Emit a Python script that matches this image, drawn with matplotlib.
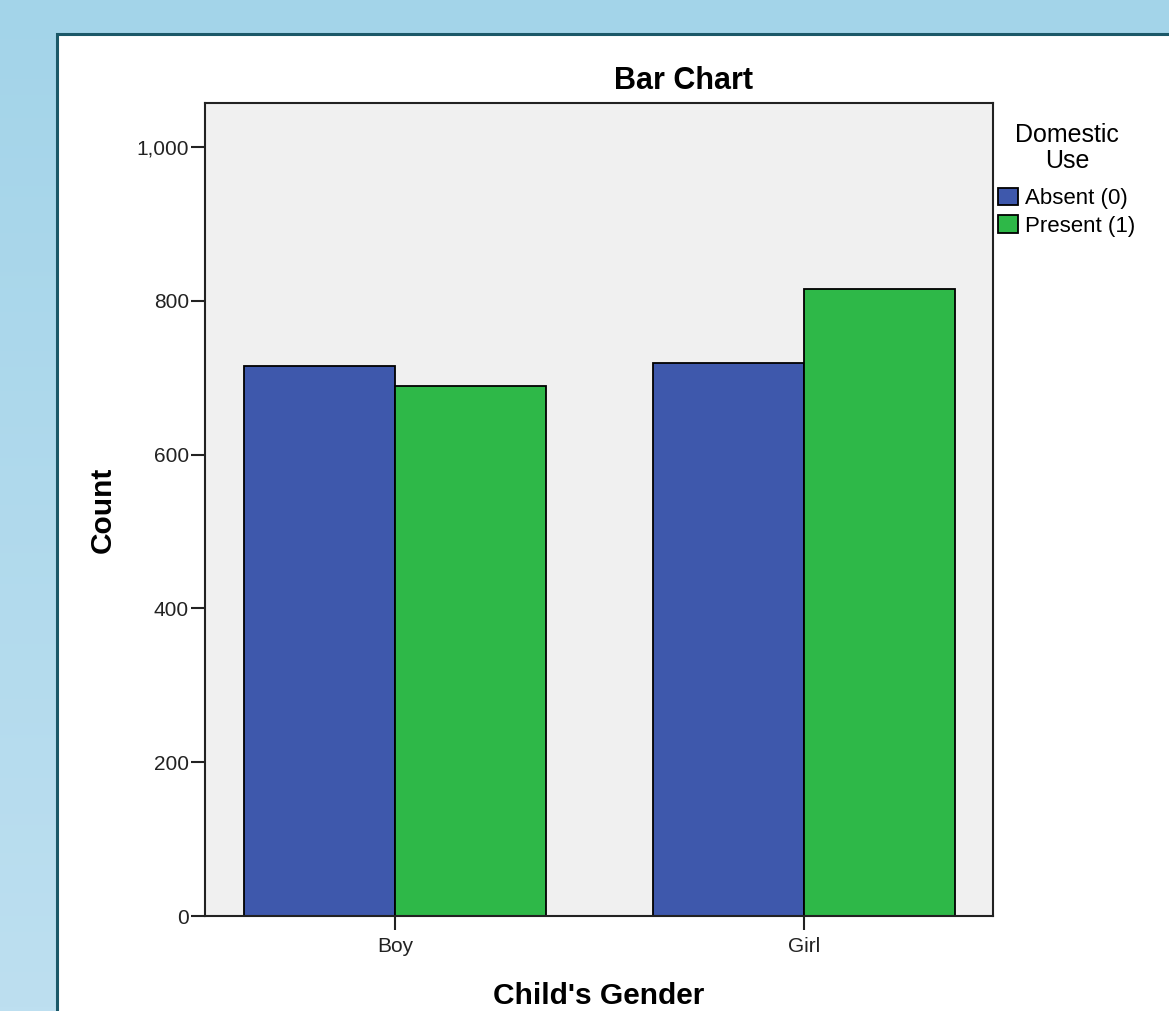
import matplotlib
matplotlib.use("Agg")
import matplotlib.pyplot as plt
import numpy as np
from matplotlib.patches import Rectangle
from matplotlib.ticker import FuncFormatter
from matplotlib.colors import LinearSegmentedColormap

categories = ["Boy", "Girl"]
series_names = ["Absent (0)", "Present (1)"]
absent = [715, 719]
present = [689, 815]
colors = ["#3e58ac", "#2eb848"]
yticks = [0, 200, 400, 600, 800, 1000]

W, H = 1169, 1011
fig = plt.figure(figsize=(W / 100, H / 100), dpi=100)
plt.rcParams['font.family'] = ['Liberation Sans', 'DejaVu Sans']

# background gradient
bg = fig.add_axes([0, 0, 1, 1], zorder=-10)
grad = np.linspace(0, 1, 256).reshape(-1, 1)
cmap = LinearSegmentedColormap.from_list("bg", ["#a3d4e9", "#bddff0"])
bg.imshow(grad, aspect="auto", cmap=cmap, extent=[0, 1, 0, 1], origin="upper")
bg.set_xlim(0, 1); bg.set_ylim(0, 1)
bg.axis("off")
bg.add_patch(Rectangle((57 / W, -0.1), 1.2, 1 - 34 / H + 0.1, facecolor="white",
                       edgecolor="#1b5868", linewidth=2.2, transform=bg.transAxes))

ax = fig.add_axes([205 / W, (H - 916) / H, (993 - 205) / W, (916 - 103) / H])
ax.set_facecolor("#f0f0f0")
x = np.arange(len(categories))
w = 0.369
b1 = ax.bar(x - w / 2, absent, w, color=colors[0], edgecolor="black", linewidth=1.3, label=series_names[0])
b2 = ax.bar(x + w / 2, present, w, color=colors[1], edgecolor="black", linewidth=1.3, label=series_names[1])
ax.set_xlim(-0.4645, 1.462)
ax.set_ylim(0, 1057)
ax.set_yticks(yticks)
ax.yaxis.set_major_formatter(FuncFormatter(lambda v, p: f"{int(v):,}"))
ax.set_xticks(x)
ax.set_xticklabels(categories)
for s in ax.spines.values():
    s.set_color("#222222")
    s.set_linewidth(1.5)
ax.tick_params(axis="y", direction="out", length=10, width=1.5, pad=1.5, labelsize=15, colors="#222222")
ax.tick_params(axis="x", direction="out", length=10, width=1.5, pad=5, labelsize=15, colors="#222222")

ax.set_ylabel("Count", fontsize=21.5, fontweight="bold", labelpad=14)
ax.set_xlabel("Child's Gender", fontsize=21.5, fontweight="bold", labelpad=19)

fig.text(683 / W, (H - 81) / H, "Bar Chart", fontsize=22, fontweight="bold", ha="center", va="center")

leg = ax.legend(handles=[b1, b2], labels=series_names, title="Domestic\nUse",
                loc="upper left", bbox_to_anchor=(994 / W, (H - 119) / H),
                bbox_transform=fig.transFigure, frameon=False, fontsize=16,
                title_fontsize=18, handlelength=0.9, handleheight=0.85,
                handletextpad=0.3, labelspacing=0.28, borderpad=0.2, borderaxespad=0)
leg.get_title().set_multialignment("center")
leg.get_title().set_linespacing(1.08)
leg._legend_box.align = "center"
leg._legend_box.sep = 10.5

fig.savefig("out.png", dpi=100)
